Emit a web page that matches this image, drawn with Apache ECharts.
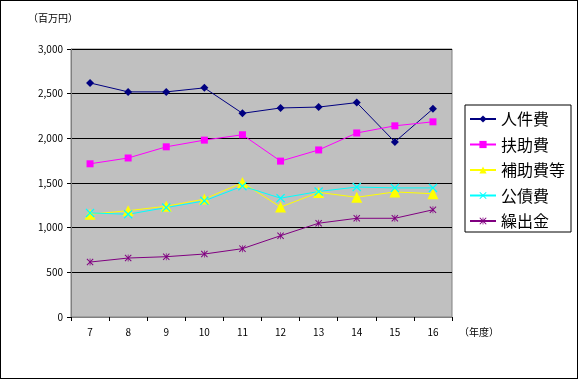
<!DOCTYPE html>
<html><head><meta charset="utf-8">
<script src="https://cdn.jsdelivr.net/npm/echarts@6/dist/echarts.min.js"></script>
<style>html,body{margin:0;padding:0;background:#fff}#c{width:578px;height:379px;box-sizing:border-box;border:1px solid #000}</style>
</head><body><div id="c"></div>
<script>
const categories = ['7','8','9','10','11','12','13','14','15','16'];
const jinkenhi = [2620, 2520, 2520, 2565, 2280, 2340, 2350, 2400, 1960, 2330];
const fujohi   = [1715, 1780, 1905, 1980, 2040, 1745, 1870, 2060, 2140, 2185];
const hojohi   = [1150, 1190, 1240, 1320, 1505, 1230, 1395, 1340, 1400, 1380];
const kosaihi  = [1165, 1150, 1225, 1300, 1465, 1330, 1405, 1455, 1445, 1445];
const kuridashi= [615, 660, 675, 705, 765, 910, 1050, 1105, 1105, 1200];
const yTicks = [0, 500, 1000, 1500, 2000, 2500, 3000];

const FONT = '"Noto Sans CJK JP", sans-serif';
const xPath = 'path://M0,1 L1,0 L5,4 L9,0 L10,1 L6,5 L10,9 L9,10 L5,6 L1,10 L0,9 L4,5 Z';
const starPath = 'path://M0,1 L1,0 L4.5,3.5 L4.5,0 L5.5,0 L5.5,3.5 L9,0 L10,1 L6,5 L10,9 L9,10 L5.5,6.5 L5.5,10 L4.5,10 L4.5,6.5 L1,10 L0,9 L4,5 Z';

function mk(name, data, color, symbol, size, width) {
  return {name, type:'line', data, symbol, symbolSize:size,
    lineStyle:{color, width:width||1}, itemStyle:{color},
    emphasis:{disabled:true}, z: 3};
}
const chart = echarts.init(document.getElementById('c'));
chart.setOption({
  animation:false,
  textStyle:{fontFamily:FONT},
  grid:{left:70, top:48, right:125, bottom:61, show:true, backgroundColor:'#C0C0C0', borderColor:'#808080', borderWidth:1},
  xAxis:{type:'category', data:categories, boundaryGap:true,
    axisLine:{lineStyle:{color:'#808080'}}, axisTick:{show:true, length:4, lineStyle:{color:'#000'}},
    axisLabel:{color:'#000', fontSize:10, margin:10, fontFamily:FONT}},
  yAxis:{type:'value', min:yTicks[0], max:yTicks[yTicks.length-1], interval:500,
    axisLine:{show:true, lineStyle:{color:'#808080'}}, axisTick:{show:true, length:4, lineStyle:{color:'#000'}},
    splitLine:{lineStyle:{color:'#000', width:1}},
    axisLabel:{color:'#000', fontSize:10, margin:8, fontFamily:FONT, formatter:v=>v.toLocaleString('en-US')}},
  legend:{orient:'vertical', left:464, top:104, width:110, itemWidth:26, itemHeight:9, itemGap:9.5,
    padding:[6,6,3,4], backgroundColor:'#fff', borderColor:'#000', borderWidth:1,
    textStyle:{fontSize:16, lineHeight:16, color:'#000', fontFamily:FONT},
    data:['人件費','扶助費','補助費等','公債費','繰出金']},
  graphic:[
    {type:'text', left:27, top:12, style:{text:'（百万円）', fontSize:10, fill:'#000', fontFamily:FONT}},
    {type:'text', left:458, top:326, style:{text:'（年度）', fontSize:10, fill:'#000', fontFamily:FONT}}
  ],
  series:[
    mk('人件費', jinkenhi, '#000080', 'diamond', 8),
    mk('扶助費', fujohi, '#FF00FF', 'rect', 7),
    mk('補助費等', hojohi, '#FFFF00', 'triangle', 11),
    mk('公債費', kosaihi, '#00FFFF', xPath, 9),
    mk('繰出金', kuridashi, '#800080', starPath, 7)
  ]
});
</script></body></html>
